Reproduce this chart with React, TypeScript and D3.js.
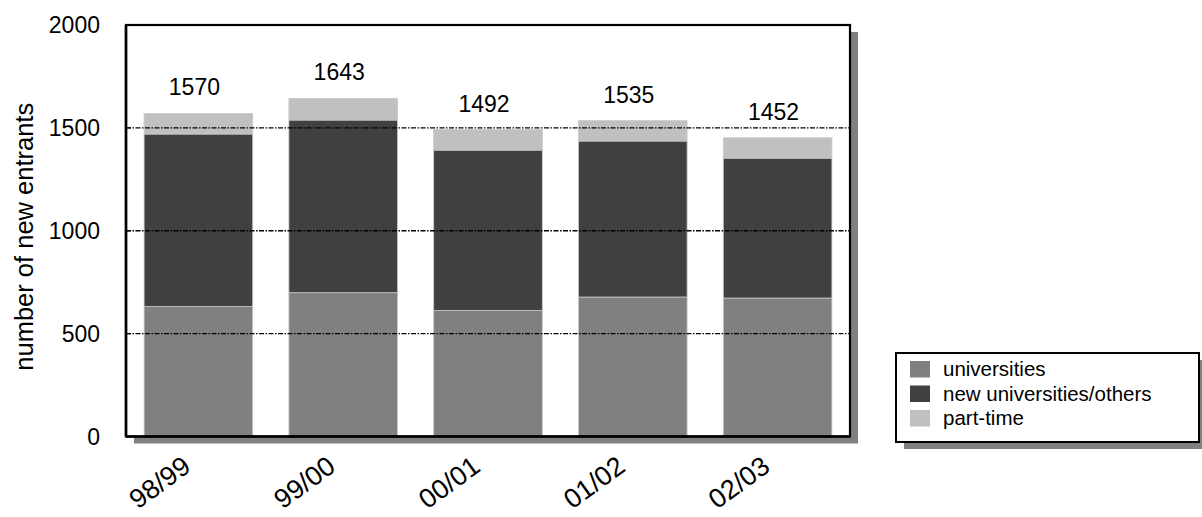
import React from "react";
import * as d3 from "d3";

const categories = ["98/99", "99/00", "00/01", "01/02", "02/03"];
const universities = [632, 699, 613, 678, 673];
const newUniversities = [838, 839, 779, 758, 680];
const partTime = [100, 105, 100, 99, 99];
const totals = [1570, 1643, 1492, 1535, 1452];
const yTicks = [0, 500, 1000, 1500, 2000];
const seriesKeys = ["universities", "new universities/others", "part-time"];
const seriesColors = ["#808080", "#404040", "#c0c0c0"];

const W = 1202;
const H = 517;
const FONT = "'Liberation Sans', Arial, Helvetica, sans-serif";

export default function App() {
  const plot = { left: 126, right: 850, top: 25, bottom: 436.5 };
  const x = d3
    .scaleBand<string>()
    .domain(categories)
    .range([plot.left, plot.right])
    .paddingInner(0.25)
    .paddingOuter(0.125);
  const y = d3.scaleLinear().domain([0, 2000]).range([plot.bottom, plot.top]);

  const rows = categories.map((c, i) => ({
    cat: c,
    [seriesKeys[0]]: universities[i],
    [seriesKeys[1]]: newUniversities[i],
    [seriesKeys[2]]: partTime[i],
  }));
  const stacked = d3.stack<any>().keys(seriesKeys)(rows);

  const legend = { x: 896, y: 353, w: 303, h: 89 };

  return (
    <svg
      width={W}
      height={H}
      style={{ position: "absolute", left: 0, top: 0, background: "#fff" }}
      fontFamily={FONT}
    >
      {/* plot shadow */}
      <rect
        x={plot.left + 8}
        y={plot.top + 7}
        width={plot.right - plot.left}
        height={plot.bottom - plot.top}
        fill="#808080"
      />
      <rect
        x={plot.left}
        y={plot.top}
        width={plot.right - plot.left}
        height={plot.bottom - plot.top}
        fill="#fff"
      />
      {/* bars */}
      {stacked.map((s, si) => (
        <g key={s.key} fill={seriesColors[si]}>
          {s.map((d, i) => (
            <rect
              key={i}
              x={x(categories[i])}
              y={y(d[1])}
              width={x.bandwidth()}
              height={y(d[0]) - y(d[1])}
              stroke="#c8c8c8"
              strokeWidth={0.8}
            />
          ))}
        </g>
      ))}
      {/* gridlines over bars */}
      {yTicks
        .filter((t) => t > 0)
        .map((t) => (
          <line
            key={t}
            x1={plot.left}
            x2={plot.right}
            y1={y(t)}
            y2={y(t)}
            stroke="#000"
            strokeWidth={1.4}
            strokeDasharray="5 1.5 1.5 1.5"
          />
        ))}
      {/* frame */}
      <rect
        x={plot.left}
        y={plot.top}
        width={plot.right - plot.left}
        height={plot.bottom - plot.top}
        fill="none"
        stroke="#000"
        strokeWidth={2.2}
      />
      <line x1={plot.left} x2={plot.left} y1={plot.top} y2={plot.bottom} stroke="#000" strokeWidth={2.6} />
      <line x1={plot.left} x2={plot.right} y1={plot.bottom} y2={plot.bottom} stroke="#000" strokeWidth={2.6} />
      {/* y ticks */}
      {yTicks.map((t) => (
        <g key={t}>
          <line x1={plot.left} x2={plot.left + 5} y1={y(t)} y2={y(t)} stroke="#000" strokeWidth={1.2} />
          <text
            x={100}
            y={y(t)}
            dy="0.36em"
            textAnchor="end"
            fontSize={23}
            fill="#000"
          >
            {t}
          </text>
        </g>
      ))}
      {/* y title */}
      <text
        transform={`translate(33, ${(plot.top + plot.bottom) / 2 + 6}) rotate(-90)`}
        textAnchor="middle"
        fontSize={25.5}
        fill="#000"
      >
        number of new entrants
      </text>
      {/* total labels */}
      {totals.map((t, i) => (
        <text
          key={i}
          x={(x(categories[i]) as number) + x.bandwidth() / 2 - 4}
          y={y(t) - 18}
          textAnchor="middle"
          fontSize={23}
          fill="#000"
        >
          {t}
        </text>
      ))}
      {/* x labels */}
      {categories.map((c) => (
        <text
          key={c}
          transform={`translate(${(x(c) as number) + x.bandwidth() / 2 - 6}, 470) rotate(-36)`}
          textAnchor="end"
          fontSize={27}
          fill="#000"
        >
          {c}
        </text>
      ))}
      {/* legend */}
      <rect x={legend.x + 8} y={legend.y + 7} width={legend.w} height={legend.h} fill="#808080" />
      <rect
        x={legend.x}
        y={legend.y}
        width={legend.w}
        height={legend.h}
        fill="#fff"
        stroke="#000"
        strokeWidth={2}
      />
      {seriesKeys.map((k, i) => (
        <g key={k} transform={`translate(${legend.x + 14}, ${legend.y + 16 + i * 24.5})`}>
          <rect x={0} y={-8} width={20} height={16.5} fill={seriesColors[i]} />
          <text x={33} y={0} dy="0.35em" fontSize={20.5} fill="#000">
            {k}
          </text>
        </g>
      ))}
    </svg>
  );
}
